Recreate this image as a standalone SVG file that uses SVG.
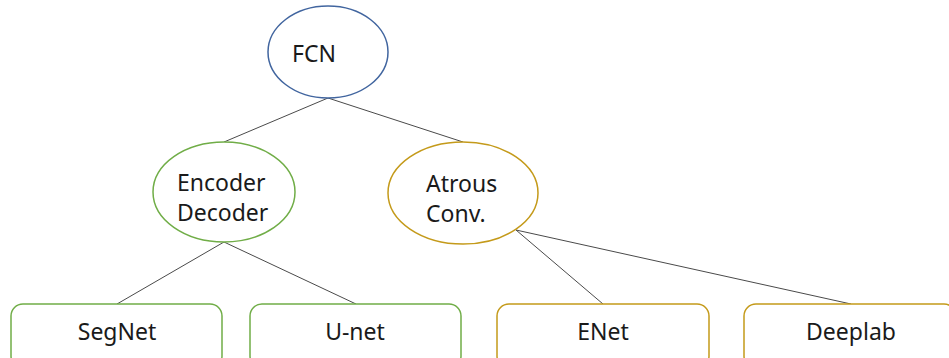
<svg xmlns="http://www.w3.org/2000/svg" width="949" height="358" viewBox="0 0 949 358">
  <style>
    .lbl { font-family: "Noto Sans", "Liberation Sans", sans-serif; font-size: 23px; fill: #1a1a1a; }
    .edge { stroke: #4a4a4a; stroke-width: 1; fill: none; }
    .blue { fill: #ffffff; stroke: #41659f; stroke-width: 1.5; }
    .green { fill: #ffffff; stroke: #70ad47; stroke-width: 1.5; }
    .gold { fill: #ffffff; stroke: #c49a1a; stroke-width: 1.5; }
  </style>
  <rect width="949" height="358" fill="#ffffff"/>
  <g id="connectors">
    <line class="edge" x1="328" y1="98" x2="224" y2="142"/>
    <line class="edge" x1="328" y1="98" x2="463" y2="142"/>
    <line class="edge" x1="224" y1="242" x2="117" y2="304"/>
    <line class="edge" x1="224" y1="242" x2="356" y2="304"/>
    <line class="edge" x1="516" y1="230" x2="603" y2="304"/>
    <line class="edge" x1="516" y1="230" x2="851" y2="304"/>
  </g>
  <g id="fcn">
    <ellipse class="blue" cx="328" cy="52" rx="60" ry="46"/>
    <text class="lbl" x="292" y="62">FCN</text>
  </g>
  <g id="encoder-decoder">
    <ellipse class="green" cx="224" cy="192" rx="71" ry="50"/>
    <text class="lbl" x="177" y="191">Encoder</text>
    <text class="lbl" x="177" y="221">Decoder</text>
  </g>
  <g id="atrous-conv">
    <ellipse class="gold" cx="463" cy="193" rx="75" ry="51"/>
    <text class="lbl" x="426" y="192">Atrous</text>
    <text class="lbl" x="426" y="222">Conv.</text>
  </g>
  <g id="segnet">
    <rect class="green" x="11" y="304" width="211" height="64" rx="12"/>
    <text class="lbl" x="117" y="340" text-anchor="middle">SegNet</text>
  </g>
  <g id="unet">
    <rect class="green" x="250" y="304" width="211" height="64" rx="12"/>
    <text class="lbl" x="355" y="340" text-anchor="middle">U-net</text>
  </g>
  <g id="enet">
    <rect class="gold" x="497" y="304" width="212" height="64" rx="12"/>
    <text class="lbl" x="603" y="340" text-anchor="middle">ENet</text>
  </g>
  <g id="deeplab">
    <rect class="gold" x="744" y="304" width="212" height="64" rx="12"/>
    <text class="lbl" x="851" y="340" text-anchor="middle">Deeplab</text>
  </g>
</svg>
